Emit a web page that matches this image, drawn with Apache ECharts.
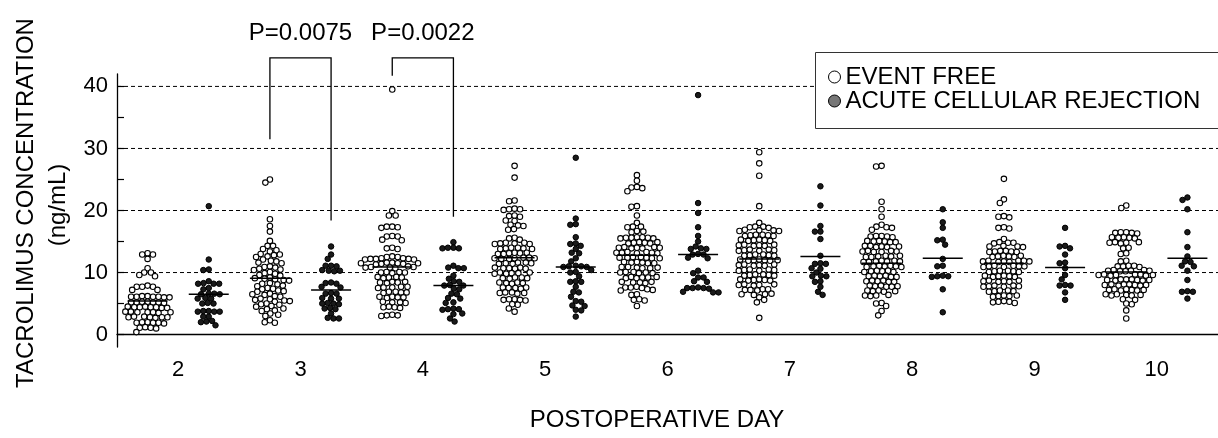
<!DOCTYPE html>
<html>
<head>
<meta charset="utf-8">
<script src="https://cdn.jsdelivr.net/npm/echarts@6/dist/echarts.min.js"></script>
<style>
  html, body { margin: 0; padding: 0; background: #fff; }
  #chart { width: 1218px; height: 438px; }
</style>
</head>
<body>
<div id="chart"></div>
<script>
/* ================================
   DATA
================================ */
const days = ["2", "3", "4", "5", "6", "7", "8", "9", "10"];

const ef2 = [13.1, 12.9, 12.9, 12.2, 10.7, 10.0, 10.0, 9.6, 9.4, 7.9, 7.7, 7.7, 7.7, 7.2, 7.2,
  6.2, 6.1, 6.1, 6.0, 6.1, 6.2, 6.0, 6.1, 5.3, 5.2, 5.2, 5.1, 5.3, 5.2, 5.2,
  4.5, 4.4, 4.4, 4.3, 4.4, 4.5, 4.4, 4.3, 3.7, 3.6, 3.6, 3.5, 3.6, 3.7, 3.6,
  2.9, 2.8, 2.8, 2.7, 2.8, 2.9, 2.8, 2.0, 1.9, 1.9, 1.8, 1.9, 2.0, 1.2, 1.1, 1.0, 1.1, 0.4];
const acr2 = [20.7, 12.1, 10.5, 10.4, 8.6, 8.2, 8.2, 8.3, 8.2, 7.5, 7.3, 6.6, 6.5, 6.5, 6.6,
  5.8, 5.8, 5.9, 5.0, 5.0, 5.1, 3.8, 3.7, 3.7, 3.8, 3.7, 2.9, 2.9, 2.1, 2.0, 2.2, 1.5];

const ef3 = [25.0, 24.5, 18.6, 17.5, 16.6, 15.1, 14.3, 14.3, 13.8, 13.6, 13.4,
  13.0, 12.9, 12.8, 12.6, 12.5, 12.1, 11.9, 11.8, 11.6, 11.5,
  11.0, 10.9, 10.8, 10.6, 10.5, 10.4, 10.1, 9.9, 9.8, 9.6, 9.5,
  9.2, 9.1, 9.0, 8.9, 8.8, 8.7, 8.3, 8.2, 8.1, 7.9, 7.8,
  7.5, 7.4, 7.3, 7.1, 7.0, 6.9, 6.6, 6.5, 6.4, 6.2, 6.1,
  5.8, 5.7, 5.6, 5.5, 5.4, 5.3, 5.0, 4.9, 4.8, 4.6, 4.5,
  4.2, 4.1, 3.9, 3.8, 3.4, 3.2, 3.0, 2.3, 2.0, 1.9];
const acr3 = [14.2, 12.9, 12.2, 11.1, 11.0, 11.1, 10.3, 10.4, 10.3, 10.2, 8.3, 8.4, 8.2, 7.7, 7.6,
  6.6, 6.7, 6.6, 5.8, 5.9, 5.8, 5.0, 5.1, 5.0, 4.9, 4.2, 4.3, 4.1, 3.4, 2.6, 2.6, 2.7];

const ef4 = [39.5, 19.9, 19.2, 19.2, 17.4, 17.3, 17.2, 17.4, 15.9, 15.8, 15.8, 15.3, 15.2, 14.0, 13.9, 13.8,
  12.6, 12.5, 12.5, 12.3, 12.2, 12.1, 12.2, 12.3, 12.1, 12.2,
  11.6, 11.5, 11.4, 11.5, 11.6, 11.4, 11.5, 11.3, 10.9, 10.8, 10.9, 10.7, 11.0, 10.8,
  10.1, 10.0, 9.9, 10.0, 10.1, 9.3, 9.2, 9.1, 9.2, 9.3, 8.5, 8.4, 8.3, 8.4, 8.5,
  7.7, 7.6, 7.5, 7.6, 7.7, 6.9, 6.8, 6.7, 6.8, 6.9, 6.1, 6.0, 5.9, 6.0, 6.1,
  5.3, 5.2, 5.1, 5.2, 4.5, 4.4, 4.3, 4.4, 3.2, 3.1, 3.0, 3.1];
const acr4 = [14.9, 14.0, 13.9, 13.9, 14.0, 11.1, 10.7, 10.8, 10.7, 9.5, 9.0, 8.5, 8.6, 7.9, 7.9, 8.0,
  7.3, 7.4, 6.5, 6.6, 5.8, 5.9, 5.1, 5.2, 4.1, 4.2, 4.1, 4.0, 3.3, 3.4, 2.6, 2.1];

const ef5 = [27.2, 25.3, 21.6, 21.5, 20.2, 20.3, 20.2, 20.1, 19.1, 19.2, 19.0, 18.3, 18.4,
  17.6, 17.7, 17.5, 16.9, 17.0, 15.6, 15.5, 15.3,
  14.8, 14.7, 14.6, 14.7, 14.8, 14.6, 14.0, 13.9, 13.8, 13.9, 14.0, 13.8,
  13.2, 13.1, 13.0, 13.1, 13.2, 13.0, 12.4, 12.3, 12.2, 12.3, 12.4, 12.2, 12.3,
  11.6, 11.5, 11.4, 11.5, 11.6, 11.4, 10.8, 10.7, 10.6, 10.7, 10.8, 10.6,
  10.0, 9.9, 9.8, 9.9, 10.0, 9.8, 9.2, 9.1, 9.0, 9.1, 9.2, 8.4, 8.3, 8.2, 8.3, 8.4,
  7.6, 7.5, 7.4, 7.5, 7.6, 6.8, 6.7, 6.6, 6.7, 6.8, 5.7, 5.6, 5.5, 5.6, 5.7,
  4.8, 4.9, 4.2, 3.7];
const acr5 = [28.5, 18.7, 17.7, 17.8, 15.7, 14.6, 14.7, 14.3, 13.8, 13.1, 13.2, 12.3, 11.8,
  11.0, 10.9, 11.0, 10.9, 11.1, 10.4, 10.0, 10.1, 9.4, 8.5, 8.6, 8.5, 7.7, 6.8, 6.9,
  6.1, 5.3, 5.4, 4.6, 4.7, 3.9, 4.0, 2.9];

const ef6 = [25.7, 24.8, 23.8, 23.7, 23.6, 23.1, 20.7, 20.6, 19.2, 18.0, 17.4, 17.3, 17.4, 16.6, 16.7, 16.5,
  15.7, 15.6, 15.5, 15.6, 15.7, 15.5, 15.6, 14.9, 14.8, 14.7, 14.8, 14.9, 14.7,
  14.1, 14.0, 13.9, 14.0, 14.1, 13.9, 14.0, 13.3, 13.2, 13.1, 13.2, 13.3, 13.1, 13.2,
  12.5, 12.4, 12.3, 12.4, 12.5, 12.3, 12.4, 11.7, 11.6, 11.5, 11.6, 11.7, 11.5,
  10.9, 10.8, 10.7, 10.8, 10.9, 10.7, 10.1, 10.0, 9.9, 10.0, 10.1, 9.9,
  9.3, 9.2, 9.1, 9.2, 9.3, 9.1, 8.5, 8.4, 8.3, 8.4, 8.5, 7.7, 7.6, 7.5, 7.6,
  7.2, 7.1, 7.3, 6.4, 6.5, 5.6, 5.7, 5.5, 4.6];
const acr6 = [38.6, 21.2, 19.6, 17.3, 15.9, 15.0, 14.2, 13.8, 13.9, 13.8, 12.9, 13.0, 12.9, 12.3, 12.4,
  10.3, 9.9, 9.2, 9.2, 8.5, 8.6, 7.5, 7.5, 7.4, 7.6, 7.5, 6.8, 6.8, 6.9];

const ef7 = [29.4, 27.6, 25.6, 20.7, 18.0, 17.4, 17.3, 17.4, 17.2,
  16.8, 16.7, 16.9, 16.8, 16.7, 16.0, 16.1, 15.9, 16.0, 16.1, 15.9,
  15.2, 15.3, 15.1, 15.2, 15.3, 15.1, 14.4, 14.5, 14.3, 14.4, 14.5, 14.3,
  13.6, 13.7, 13.5, 13.6, 13.7, 13.5, 12.8, 12.9, 12.7, 12.8, 12.9, 12.7,
  12.0, 12.1, 11.9, 12.0, 12.1, 11.9, 12.0, 11.2, 11.3, 11.1, 11.2, 11.3, 11.1,
  10.4, 10.5, 10.3, 10.4, 10.5, 10.3, 9.6, 9.7, 9.5, 9.6, 9.7, 9.5,
  8.8, 8.9, 8.7, 8.8, 8.9, 8.7, 8.0, 8.1, 7.9, 8.0, 8.1, 7.2, 7.3, 7.1, 7.2, 7.3,
  6.5, 6.6, 6.4, 6.5, 6.0, 5.6, 5.2, 2.7];
const acr7 = [23.9, 20.8, 17.5, 16.6, 16.6, 15.4, 12.7, 11.4, 11.5, 11.4, 10.7, 10.6, 10.0,
  9.4, 9.4, 9.5, 8.5, 8.6, 7.7, 6.9, 6.4];

const ef8 = [27.2, 27.1, 21.4, 20.2, 19.0, 17.7, 17.3, 17.4, 17.2, 16.9,
  15.8, 15.9, 15.7, 15.8, 15.9, 15.0, 15.1, 14.9, 15.0, 15.1, 14.9,
  14.2, 14.3, 14.1, 14.2, 14.3, 14.1, 13.4, 13.5, 13.3, 13.4, 13.5, 13.3,
  12.6, 12.7, 12.5, 12.6, 12.7, 12.5, 11.8, 11.9, 11.7, 11.8, 11.9, 11.7, 11.8,
  11.0, 11.1, 10.9, 11.0, 11.1, 10.9, 11.0, 10.2, 10.3, 10.1, 10.2, 10.3, 10.1,
  9.4, 9.5, 9.3, 9.4, 9.5, 9.3, 8.6, 8.7, 8.5, 8.6, 8.7, 8.5,
  7.8, 7.9, 7.7, 7.8, 7.9, 7.7, 7.0, 7.1, 6.9, 7.0, 7.1, 6.3, 6.4, 6.2, 6.3,
  5.1, 5.0, 4.6, 3.8, 3.1];
const acr8 = [20.2, 18.1, 17.2, 15.2, 15.3, 14.5, 12.2, 11.0, 11.1, 9.4, 9.4, 9.5, 9.3, 7.3, 3.6];

const ef9 = [25.1, 21.8, 21.2, 19.0, 18.9, 19.1, 17.2, 17.3, 17.1, 15.4, 14.8, 14.9, 14.7, 14.8,
  14.2, 14.1, 14.3, 14.2, 13.4, 13.5, 13.3, 13.4, 13.5, 13.3, 12.6, 12.7, 12.5, 12.6, 12.7, 12.5,
  11.8, 11.9, 11.7, 11.8, 11.9, 11.7, 11.8, 11.9, 11.0, 11.1, 10.9, 11.0, 11.1, 10.9, 11.0,
  10.2, 10.3, 10.1, 10.2, 10.3, 10.1, 9.4, 9.5, 9.3, 9.4, 9.5, 9.3,
  8.6, 8.7, 8.5, 8.6, 8.7, 8.5, 7.8, 7.9, 7.7, 7.8, 7.9, 7.7,
  7.0, 7.1, 6.9, 7.0, 7.1, 6.2, 6.3, 6.1, 6.2, 6.3, 5.3, 5.4, 5.2, 5.3, 5.1];
const acr9 = [17.2, 14.2, 14.3, 13.9, 12.9, 11.5, 11.6, 10.7, 9.6, 8.9, 7.9, 7.9, 8.0, 6.8, 5.6];

const ef10 = [20.8, 20.4, 16.4, 16.5, 16.3, 16.4, 16.5, 15.6, 15.7, 15.5, 15.6, 15.7,
  14.8, 14.9, 14.7, 14.8, 14.9, 13.9, 14.0, 13.0, 13.1, 11.8, 11.9,
  11.0, 11.1, 10.9, 11.0, 11.1, 10.3, 10.4, 10.2, 10.3, 10.4, 10.2, 10.3,
  9.6, 9.7, 9.5, 9.6, 9.7, 9.5, 9.6, 9.7, 8.8, 8.9, 8.7, 8.8, 8.9, 8.7, 8.8, 8.9,
  8.0, 8.1, 7.9, 8.0, 8.1, 7.9, 8.0, 8.1, 7.2, 7.3, 7.1, 7.2, 7.3, 7.1, 7.2,
  6.4, 6.5, 6.3, 6.4, 6.5, 6.3, 5.6, 5.7, 4.9, 5.0, 3.9, 2.6];
const acr10 = [22.1, 21.7, 20.2, 16.5, 14.1, 12.6, 11.7, 11.8, 11.0, 11.1, 10.3, 8.8, 6.9, 6.9, 7.0, 5.8];

const efMedians  = [5.4, 9.1, 10.9, 12.4, 12.8, 12.2, 11.5, 11.5, 10.1];
const acrMedians = [6.5, 7.2, 7.9, 10.9, 12.9, 12.6, 12.3, 10.8, 12.3];

const gridLevels    = [10, 20, 30, 40];
const yTickValues   = [0, 5, 10, 15, 20, 25, 30, 35, 40];
const yLabelValues  = [0, 10, 20, 30, 40];

const bracketDays     = [3, 4];
const bracketLeftEnd  = [31.5, 41.7];
const bracketRightEnd = [18.4, 19.0];
const bracketTop      = 44.6;
const pLabels         = ["P=0.0075", "P=0.0022"];
const pLabelLevel     = 48.6;

const efGroups  = [ef2, ef3, ef4, ef5, ef6, ef7, ef8, ef9, ef10];
const acrGroups = [acr2, acr3, acr4, acr5, acr6, acr7, acr8, acr9, acr10];

/* ================================
   SETUP
================================ */
const FONT = '"Liberation Sans", Arial, sans-serif';
const SIDE = 0.25;      // group offset from day centre (in days)
const DOT_GAP = 5.5;    // min centre distance between dots (px)
const MEDIAN_HALF = 20; // half length of median bar (px)

const chart = echarts.init(document.getElementById("chart"), null, { renderer: "canvas" });

chart.setOption({
  animation: false,
  backgroundColor: "#fff",
  textStyle: { fontFamily: FONT, color: "#000" },
  grid: { left: 117, right: -2, top: 74, bottom: 91 },
  xAxis: [
    {
      type: "category",
      data: days,
      boundaryGap: true,
      axisLine: { lineStyle: { color: "#000", width: 1.3 } },
      axisTick: { inside: true, length: 12, lineStyle: { color: "#000", width: 1.2 } },
      axisLabel: { fontSize: 22, color: "#000", margin: 12, fontFamily: FONT },
      splitLine: { show: false }
    },
    { type: "value", min: 1.5, max: 10.5, show: false }
  ],
  yAxis: {
    type: "value",
    min: -2,
    max: 42,
    axisLine: { show: true, lineStyle: { color: "#000", width: 1.3 } },
    axisTick: { show: true, inside: true, length: 7, customValues: yTickValues, lineStyle: { color: "#000", width: 1.2 } },
    axisLabel: { fontSize: 22, color: "#000", margin: 9, customValues: yLabelValues, fontFamily: FONT },
    splitLine: { show: false }
  },
  graphic: [
    { type: "text", x: 26, y: 203, rotation: Math.PI / 2,
      style: { text: "TACROLIMUS CONCENTRATION", fontSize: 24, fontFamily: FONT, fill: "#000", align: "center", verticalAlign: "middle" } },
    { type: "text", x: 58, y: 205, rotation: Math.PI / 2,
      style: { text: "(ng/mL)", fontSize: 24, fontFamily: FONT, fill: "#000", align: "center", verticalAlign: "middle" } },
    { type: "text", x: 657, y: 420,
      style: { text: "POSTOPERATIVE DAY", fontSize: 24, fontFamily: FONT, fill: "#000", align: "center", verticalAlign: "middle" } },
    // legend frame, running off the right edge as in the original
    { type: "rect", z: 10, shape: { x: 815.5, y: 52.5, width: 440, height: 76 },
      style: { fill: "#fff", stroke: "#333", lineWidth: 1 } }
  ],
  legend: {
    orient: "vertical",
    left: 815,
    top: 52,
    z: 20,
    padding: [13, 20, 16, 13],
    itemGap: 0,
    itemWidth: 12,
    itemHeight: 12,
    selectedMode: false,
    textStyle: { fontSize: 24, lineHeight: 23, color: "#000", fontFamily: FONT },
    data: [
      { name: "EVENT FREE", icon: "circle", itemStyle: { color: "#fff", borderColor: "#000", borderWidth: 1 } },
      { name: "ACUTE CELLULAR REJECTION", icon: "circle", itemStyle: { color: "#777", borderColor: "#000", borderWidth: 1 } }
    ]
  },
  series: [
    {
      type: "custom",
      name: "grid",
      xAxisIndex: 1,
      silent: true,
      z: 1,
      data: gridLevels.map(v => [1.5, v]),
      renderItem: (params, api) => {
        const a = api.coord([1.5, api.value(1)]);
        const b = api.coord([10.5, api.value(1)]);
        return { type: "line", shape: { x1: a[0], y1: a[1], x2: b[0], y2: b[1] },
          style: { stroke: "#000", lineWidth: 1, lineDash: [4, 3] } };
      }
    }
  ]
});

/* ================================
   BEESWARM LAYOUT (pixel space)
================================ */
function swarmOffsets(values) {
  const pts = values.map((v, i) => ({ i, y: chart.convertToPixel({ yAxisIndex: 0 }, v) }));
  pts.sort((a, b) => a.y - b.y);
  const placed = [];
  const out = new Array(values.length);
  const d2 = DOT_GAP * DOT_GAP;
  pts.forEach(p => {
    const near = placed.filter(q => Math.abs(q.y - p.y) < DOT_GAP);
    const cands = [0];
    near.forEach(q => {
      const dx = Math.sqrt(d2 - (q.y - p.y) ** 2);
      cands.push(q.x - dx, q.x + dx);
    });
    cands.sort((a, b) => Math.abs(a) - Math.abs(b));
    const x = cands.find(c => near.every(q => (q.x - c) ** 2 + (q.y - p.y) ** 2 >= d2 - 0.01));
    placed.push({ x, y: p.y });
    out[p.i] = x;
  });
  return out;
}

const pxPerDay = chart.convertToPixel({ xAxisIndex: 1 }, 3) - chart.convertToPixel({ xAxisIndex: 1 }, 2);

function buildPoints(groups, side) {
  const data = [];
  groups.forEach((vals, k) => {
    const centre = Number(days[k]) + side * SIDE;
    const offs = swarmOffsets(vals);
    vals.forEach((v, i) => data.push([centre + offs[i] / pxPerDay, v]));
  });
  return data;
}

const efPoints  = buildPoints(efGroups, -1);
const acrPoints = buildPoints(acrGroups, 1);
const medianData = [];
days.forEach((d, k) => {
  medianData.push([Number(d) - SIDE, efMedians[k]]);
  medianData.push([Number(d) + SIDE, acrMedians[k]]);
});
const bracketData = bracketDays.map((d, i) => [d, bracketLeftEnd[i], bracketRightEnd[i]]);

chart.setOption({
  series: [
    {
      type: "custom",
      name: "grid"
    },
    {
      type: "scatter",
      name: "EVENT FREE",
      xAxisIndex: 1,
      z: 3,
      symbol: "circle",
      symbolSize: 5.5,
      itemStyle: { color: "#fff", borderColor: "#000", borderWidth: 1.1, opacity: 1 },
      data: efPoints
    },
    {
      type: "scatter",
      name: "ACUTE CELLULAR REJECTION",
      xAxisIndex: 1,
      z: 3,
      symbol: "circle",
      symbolSize: 5.5,
      itemStyle: { color: "#1a1a1a", borderColor: "#000", borderWidth: 1, opacity: 1 },
      data: acrPoints
    },
    {
      type: "custom",
      name: "median",
      xAxisIndex: 1,
      silent: true,
      z: 4,
      data: medianData,
      renderItem: (params, api) => {
        const p = api.coord([api.value(0), api.value(1)]);
        return { type: "line", shape: { x1: p[0] - MEDIAN_HALF, y1: p[1], x2: p[0] + MEDIAN_HALF, y2: p[1] },
          style: { stroke: "#000", lineWidth: 1.5 } };
      }
    },
    {
      type: "custom",
      name: "brackets",
      xAxisIndex: 1,
      silent: true,
      clip: false,
      z: 5,
      data: bracketData,
      renderItem: (params, api) => {
        const d = api.value(0);
        const l1 = api.coord([d - SIDE, api.value(1)]);
        const l0 = api.coord([d - SIDE, bracketTop]);
        const r0 = api.coord([d + SIDE, bracketTop]);
        const r1 = api.coord([d + SIDE, api.value(2)]);
        const t = api.coord([d, pLabelLevel]);
        return {
          type: "group",
          children: [
            { type: "polyline", shape: { points: [l1, l0, r0, r1] },
              style: { stroke: "#000", fill: null, lineWidth: 1.3 } },
            { type: "text", x: t[0], y: t[1],
              style: { text: pLabels[params.dataIndex], fontSize: 24, fontFamily: FONT, fill: "#000",
                align: "center", verticalAlign: "middle" } }
          ]
        };
      }
    }
  ]
});
</script>
</body>
</html>
